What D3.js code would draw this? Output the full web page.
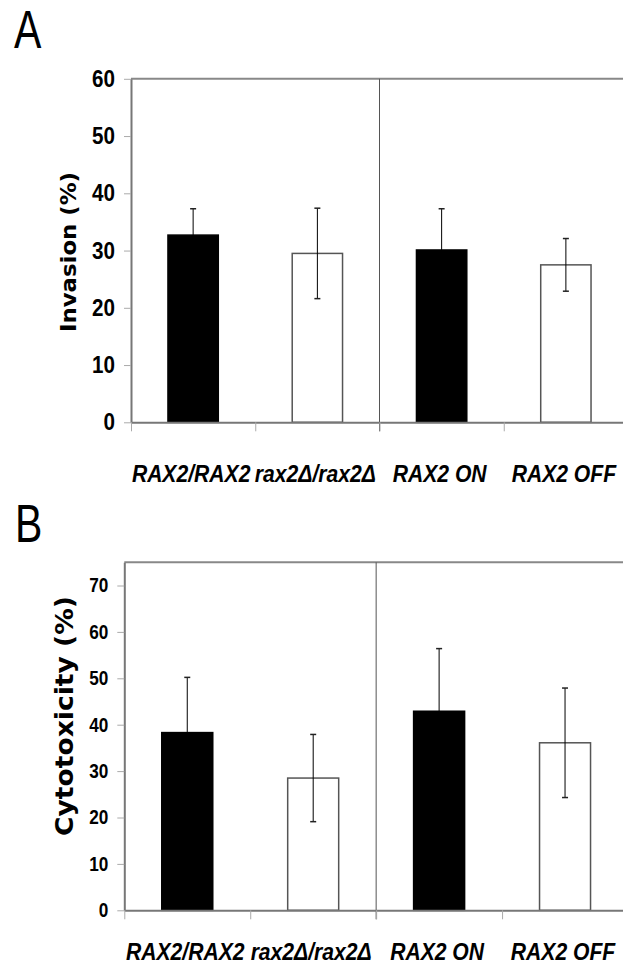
<!DOCTYPE html>
<html>
<head>
<meta charset="utf-8">
<script src="https://cdn.jsdelivr.net/npm/d3@7"></script>
<style>
  body { margin: 0; background: #fff; }
  svg { display: block; }
</style>
</head>
<body>
<div id="chartDiv"></div>
<script>
var width = 623;
var height = 967;

// data
var categories = ["RAX2/RAX2", "rax2\u0394/rax2\u0394", "RAX2 ON", "RAX2 OFF"];
var barColors = ["black", "white", "black", "white"];

var invasionMean = [32.7, 29.5, 30.1, 27.5];
var invasionErr = [4.6, 7.9, 7.2, 4.6];
var invasionTicks = [0, 10, 20, 30, 40, 50, 60];

var cytoMean = [38.3, 28.5, 42.9, 36.1];
var cytoErr = [11.9, 9.4, 13.5, 11.8];
var cytoTicks = [0, 10, 20, 30, 40, 50, 60, 70];

var sans = "'Liberation Sans', Arial, sans-serif";
var wide = "'DejaVu Sans', 'Liberation Sans', sans-serif";

var svg = d3.select("#chartDiv").append("svg")
    .attr("width", width)
    .attr("height", height);

drawPanel({
    letter: "A", letterX: 14, letterY: 48,
    left: 131, right: 628, top: 78.8, bottom: 422.3,
    yMax: 60, ticks: invasionTicks, tickSize: 24,
    means: invasionMean, errs: invasionErr,
    title: "Invasion (%)", titleX: 76, titleY: 252, titleSize: 21, titleLen: 160,
    labelY: 482
});

drawPanel({
    letter: "B", letterX: 15, letterY: 542,
    left: 124.3, right: 628, top: 562.3, bottom: 910.3,
    yMax: 75, ticks: cytoTicks, tickSize: 20,
    means: cytoMean, errs: cytoErr,
    title: "Cytotoxicity (%)", titleX: 73, titleY: 716, titleSize: 24, titleLen: 240,
    labelY: 960
});

function drawPanel(p) {
    var g = svg.append("g");

    var x = d3.scaleBand().domain(categories).range([p.left, p.right]).padding(0);
    var y = d3.scaleLinear().domain([0, p.yMax]).range([p.bottom, p.top]);
    var bw = x.bandwidth();
    var barW = bw * 0.405;
    var squeeze = 0.86; // the figure uses a narrow typeface

    // panel letter
    g.append("text")
        .attr("transform", "translate(" + p.letterX + "," + p.letterY + ") scale(0.76,1)")
        .style("font-family", sans)
        .style("font-size", "54px")
        .text(p.letter);

    // top border of the plot area
    g.append("line")
        .attr("x1", p.left).attr("x2", p.right)
        .attr("y1", p.top).attr("y2", p.top)
        .attr("stroke", "#888").attr("stroke-width", 2);

    // divider between the two experiments
    var divX = x(categories[2]);
    g.append("line")
        .attr("x1", divX).attr("x2", divX)
        .attr("y1", p.top).attr("y2", p.bottom + 9)
        .attr("stroke", "#555").attr("stroke-width", 1);

    // bars
    g.selectAll(".bar")
        .data(p.means)
        .enter().append("rect")
        .attr("class", "bar")
        .attr("x", function(d, i) { return x(categories[i]) + (bw - barW) / 2; })
        .attr("y", function(d) { return y(d); })
        .attr("width", barW)
        .attr("height", function(d) { return p.bottom - y(d); })
        .attr("fill", function(d, i) { return barColors[i]; })
        .attr("stroke", function(d, i) { return barColors[i] == "black" ? "black" : "#555"; })
        .attr("stroke-width", 1.5);

    // error bars
    var err = g.selectAll(".err")
        .data(p.means)
        .enter().append("g")
        .attr("class", "err")
        .attr("transform", function(d, i) { return "translate(" + (x(categories[i]) + bw / 2) + ",0)"; });

    err.append("line")
        .attr("y1", function(d, i) { return y(d + p.errs[i]); })
        .attr("y2", function(d, i) { return y(d - p.errs[i]); })
        .attr("stroke", "black").attr("stroke-width", 1);

    err.append("line")
        .attr("x1", -3).attr("x2", 3)
        .attr("y1", function(d, i) { return y(d + p.errs[i]); })
        .attr("y2", function(d, i) { return y(d + p.errs[i]); })
        .attr("stroke", "#222").attr("stroke-width", 1.5);

    err.append("line")
        .attr("x1", -3).attr("x2", 3)
        .attr("y1", function(d, i) { return y(d - p.errs[i]); })
        .attr("y2", function(d, i) { return y(d - p.errs[i]); })
        .attr("stroke", function(d, i) { return barColors[i] == "black" ? "black" : "#222"; })
        .attr("stroke-width", 1.5);

    // y axis
    var yAxis = d3.axisLeft(y)
        .tickValues(p.ticks)
        .tickSize(7)
        .tickSizeOuter(0)
        .tickPadding(9);

    var ya = g.append("g")
        .attr("transform", "translate(" + p.left + ",0)")
        .call(yAxis);
    ya.select(".domain").attr("stroke", "#777").attr("stroke-width", 2);
    ya.selectAll(".tick line").attr("stroke", "#aaa");
    ya.selectAll(".tick text")
        .style("font-family", sans)
        .style("font-weight", "bold")
        .style("font-size", p.tickSize + "px")
        .attr("fill", "black")
        .attr("x", -16 / squeeze)
        .attr("transform", "scale(" + squeeze + ",1)");

    // x axis: ticks sit on the category boundaries
    var xb = d3.scaleLinear().domain([0, categories.length]).range([p.left, p.right]);
    var xAxis = d3.axisBottom(xb)
        .tickValues(d3.range(categories.length + 1))
        .tickFormat("")
        .tickSize(9)
        .tickSizeOuter(0);

    var xa = g.append("g")
        .attr("transform", "translate(0," + p.bottom + ")")
        .call(xAxis);
    xa.select(".domain").attr("stroke", "#777").attr("stroke-width", 2);
    xa.selectAll(".tick line").attr("stroke", "#aaa");

    // category labels
    g.selectAll(".catlabel")
        .data(categories)
        .enter().append("text")
        .attr("class", "catlabel")
        .attr("transform", function(d) {
            return "translate(" + (x(d) + bw / 2 - 2) + "," + p.labelY + ") scale(0.88,1)";
        })
        .attr("text-anchor", "middle")
        .style("font-family", sans)
        .style("font-weight", "bold")
        .style("font-style", "italic")
        .style("font-size", "24px")
        .text(function(d) { return d; });

    // y axis title
    g.append("text")
        .attr("transform", "translate(" + p.titleX + "," + p.titleY + ") rotate(-90)")
        .attr("text-anchor", "middle")
        .style("font-family", wide)
        .style("font-weight", "bold")
        .style("font-size", p.titleSize + "px")
        .attr("textLength", p.titleLen)
        .attr("lengthAdjust", "spacingAndGlyphs")
        .text(p.title);
}
</script>
</body>
</html>
